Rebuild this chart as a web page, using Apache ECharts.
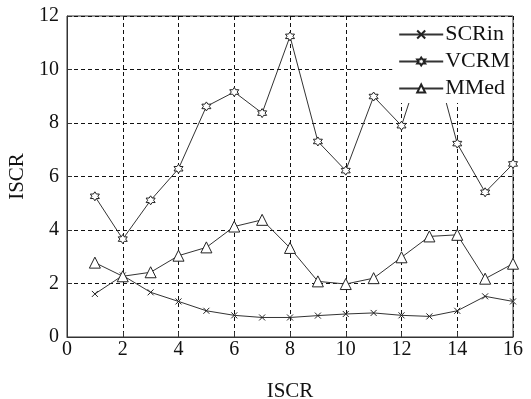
<!DOCTYPE html>
<html><head><meta charset="utf-8">
<script src="https://cdn.jsdelivr.net/npm/echarts@6/dist/echarts.min.js"></script>
<style>html,body{margin:0;padding:0;background:#fff}#c{width:531px;height:399px}</style>
</head><body><div id="c"></div>
<script>
var xValues = [1,2,3,4,5,6,7,8,9,10,11,12,13,14,15,16];
var scrin = [1.61,2.30,1.67,1.33,0.98,0.81,0.73,0.73,0.80,0.86,0.90,0.81,0.77,0.98,1.52,1.33];
var vcrm  = [5.26,3.66,5.11,6.29,8.62,9.16,8.37,11.24,7.31,6.22,8.99,7.90,11.1,7.23,5.41,6.47];
var mmed  = [2.78,2.27,2.42,3.04,3.35,4.13,4.38,3.33,2.08,1.98,2.20,2.98,3.76,3.82,2.18,2.74];
var seriesNames = ['SCRin','VCRM','MMed'];
var axisTitle = 'ISCR';

function pairs(v){ return xValues.map(function(x,i){return [x, v[i]];}); }
var FONT = "'Liberation Serif','Times New Roman',serif";
var crossPath = 'path://M0,0L10,10M10,0L0,10';
var hexPath = 'path://M10,0L12.89,5L18.66,5L15.77,10L18.66,15L12.89,15L10,20L7.11,15L1.34,15L4.23,10L1.34,5L7.11,5Z';

function mkSeries(name, data, symbol, size){
  return {
    name: name, type: 'line', data: pairs(data),
    symbol: symbol, symbolSize: size,
    lineStyle: {color: '#333', width: 1},
    itemStyle: {color: '#fff', borderColor: '#222', borderWidth: 1},
    emphasis: {disabled: true}, z: 3
  };
}

var chart = echarts.init(document.getElementById('c'), null, {renderer: 'canvas'});
chart.setOption({
  animation: false,
  backgroundColor: '#fff',
  grid: {left: 67, right: 18, top: 16, bottom: 62, show: true, borderColor: '#333', borderWidth: 1, containLabel: false, outerBoundsMode: 'none'},
  legend: {
    data: seriesNames, orient: 'vertical', right: 19, top: 17,
    backgroundColor: '#fff', padding: [6, 2, 3, 6],
    itemWidth: 44, itemHeight: 10, itemGap: 4,
    textStyle: {fontFamily: FONT, fontSize: 22, color: '#111', padding: [0,0,0,-3], lineHeight: 23},
    inactiveColor: '#111'
  },
  xAxis: {
    type: 'value', min: 0, max: 16, interval: 2,
    name: axisTitle, nameLocation: 'middle', nameGap: 44,
    nameTextStyle: {fontFamily: FONT, fontSize: 21, color: '#111'},
    axisLine: {lineStyle: {color: '#333'}},
    axisTick: {inside: true, length: 5, lineStyle: {color: '#333'}},
    axisLabel: {fontFamily: FONT, fontSize: 20, color: '#111', margin: 3},
    splitLine: {show: true, lineStyle: {color: '#111', type: [4, 3], width: 1}}
  },
  yAxis: {
    type: 'value', min: 0, max: 12, interval: 2,
    name: axisTitle, nameLocation: 'middle', nameGap: 35,
    nameTextStyle: {fontFamily: FONT, fontSize: 21, color: '#111'},
    axisLine: {show: true, lineStyle: {color: '#333'}},
    axisTick: {show: true, inside: true, length: 5, lineStyle: {color: '#333'}},
    axisLabel: {fontFamily: FONT, fontSize: 20, color: '#111', margin: 8},
    splitLine: {show: true, lineStyle: {color: '#111', type: [4, 3], width: 1}}
  },
  series: [
    mkSeries('SCRin', scrin, crossPath, 6),
    mkSeries('VCRM', vcrm, hexPath, 9),
    mkSeries('MMed', mmed, 'triangle', 11)
  ]
});
</script></body></html>
